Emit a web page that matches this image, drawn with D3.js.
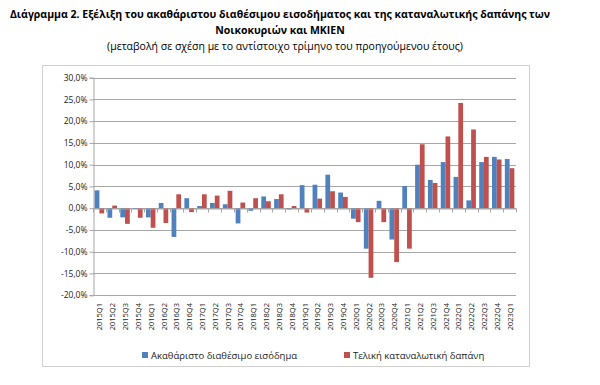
<!DOCTYPE html>
<html>
<head>
<meta charset="utf-8">
<script src="https://cdn.jsdelivr.net/npm/d3@7"></script>
<style>
  body { margin: 0; background: #fff; }
  svg { font-family: "Open Sans", "Liberation Sans", sans-serif; }
</style>
</head>
<body>
<div id="chart"></div>
<script>
const width = 600;
const height = 385;

const quarters = [
  "2015Q1","2015Q2","2015Q3","2015Q4","2016Q1","2016Q2","2016Q3","2016Q4",
  "2017Q1","2017Q2","2017Q3","2017Q4","2018Q1","2018Q2","2018Q3","2018Q4",
  "2019Q1","2019Q2","2019Q3","2019Q4","2020Q1","2020Q2","2020Q3","2020Q4",
  "2021Q1","2021Q2","2021Q3","2021Q4","2022Q1","2022Q2","2022Q3","2022Q4","2023Q1"
];
// Ακαθάριστο διαθέσιμο εισόδημα (%)
const income = [
  4.1, -2.2, -2.1, -0.2, -2.1, 1.2, -6.6, 2.3,
  0.5, 1.2, 0.9, -3.5, -0.6, 2.7, 2.1, -0.3,
  5.3, 5.4, 7.7, 3.6, -2.4, -9.3, 1.7, -7.2,
  5.1, 10.0, 6.5, 10.6, 7.2, 1.8, 10.6, 11.8, 11.3
];
// Τελική καταναλωτική δαπάνη (%)
const spending = [
  -1.2, 0.6, -3.6, -2.2, -4.5, -3.4, 3.2, -0.9,
  3.2, 2.9, 4.0, 1.3, 2.3, 1.6, 3.2, 0.5,
  -1.0, 2.2, 3.9, 2.6, -3.2, -16.0, -3.2, -12.4,
  -9.3, 14.7, 5.8, 16.5, 24.2, 18.1, 11.8, 11.2, 9.2
];
const seriesNames = ["Ακαθάριστο διαθέσιμο εισόδημα", "Τελική καταναλωτική δαπάνη"];
const colors = ["#4F81BD", "#C0504D"];
const yTicks = [30, 25, 20, 15, 10, 5, 0, -5, -10, -15, -20];

const svg = d3.select("#chart").append("svg")
  .attr("width", width)
  .attr("height", height);

// titles
svg.append("text")
  .attr("x", 280).attr("y", 18)
  .attr("text-anchor", "middle")
  .attr("font-weight", "bold")
  .attr("font-size", 10.5)
  .text("Διάγραμμα 2. Εξέλιξη του ακαθάριστου διαθέσιμου εισοδήματος και της καταναλωτικής δαπάνης των");
svg.append("text")
  .attr("x", 280).attr("y", 34)
  .attr("text-anchor", "middle")
  .attr("font-weight", "bold")
  .attr("font-size", 10.5)
  .text("Νοικοκυριών και ΜΚΙΕΝ");
svg.append("text")
  .attr("x", 285).attr("y", 50)
  .attr("text-anchor", "middle")
  .attr("font-size", 10.5)
  .text("(μεταβολή σε σχέση με το αντίστοιχο τρίμηνο του προηγούμενου έτους)");

// outer frame
svg.append("rect")
  .attr("x", 42.5).attr("y", 65.5)
  .attr("width", 487).attr("height", 301)
  .attr("fill", "none")
  .attr("stroke", "#d0d0d0");

const plot = { left: 93, right: 516, top: 77.7, bottom: 295.2 };

const x = d3.scaleBand()
  .domain(quarters)
  .range([plot.left, plot.right]);

const x1 = d3.scaleBand()
  .domain([0, 1])
  .range([0, x.bandwidth()])
  .paddingOuter(0.35)
  .paddingInner(0);

const y = d3.scaleLinear()
  .domain([-20, 30])
  .range([plot.bottom, plot.top]);

// gridlines
svg.append("g")
  .selectAll("line")
  .data(yTicks)
  .join("line")
  .attr("x1", plot.left).attr("x2", plot.right)
  .attr("y1", d => Math.round(y(d)) + 0.5)
  .attr("y2", d => Math.round(y(d)) + 0.5)
  .attr("stroke", "#a6a6a6")
  .attr("stroke-width", 1);

// y axis
const yAxis = svg.append("g")
  .attr("transform", `translate(${plot.left + 0.5},0)`)
  .call(d3.axisLeft(y)
    .tickValues(yTicks)
    .tickSize(4)
    .tickFormat(d => d.toFixed(1).replace(".", ",") + "%"));
yAxis.select(".domain").attr("stroke", "#a6a6a6");
yAxis.selectAll(".tick line").attr("stroke", "#a6a6a6");
yAxis.selectAll(".tick text")
  .attr("font-size", 8.5)
  .attr("fill", "#222")
  .attr("font-family", "'Open Sans', sans-serif")
  .attr("x", -6);

// bars
const series = [income, spending];
series.forEach((vals, si) => {
  svg.append("g")
    .selectAll("rect")
    .data(vals)
    .join("rect")
    .attr("x", (d, i) => x(quarters[i]) + x1(si))
    .attr("width", x1.bandwidth())
    .attr("y", d => y(Math.max(0, d)))
    .attr("height", d => Math.abs(y(d) - y(0)))
    .attr("fill", colors[si]);
});

// x axis at zero
const xAxis = svg.append("g")
  .attr("transform", `translate(0,${Math.round(y(0)) + 0.5})`)
  .call(d3.axisBottom(x).tickSize(0).tickFormat(""));
xAxis.select(".domain").attr("stroke", "#a6a6a6");
svg.append("g")
  .selectAll("line")
  .data(d3.range(quarters.length + 1))
  .join("line")
  .attr("x1", i => Math.round(plot.left + i * x.step()) + 0.5)
  .attr("x2", i => Math.round(plot.left + i * x.step()) + 0.5)
  .attr("y1", Math.round(y(0)) + 0.5)
  .attr("y2", Math.round(y(0)) + 4.5)
  .attr("stroke", "#a6a6a6");

// x labels (rotated)
svg.append("g")
  .selectAll("text")
  .data(quarters)
  .join("text")
  .attr("transform", d => `translate(${x(d) + x.bandwidth() / 2 + 3},303) rotate(-90)`)
  .attr("text-anchor", "end")
  .attr("font-size", 7.5)
  .attr("fill", "#222")
  .text(d => d);

// legend
const legendX = [142, 344];
seriesNames.forEach((name, i) => {
  const g = svg.append("g").attr("transform", `translate(${legendX[i]},352)`);
  g.append("rect").attr("width", 6).attr("height", 6).attr("fill", colors[i]);
  g.append("text")
    .attr("x", 9).attr("y", 6.5)
    .attr("font-size", 9.5)
    .attr("fill", "#222")
    .text(name);
});
</script>
</body>
</html>
